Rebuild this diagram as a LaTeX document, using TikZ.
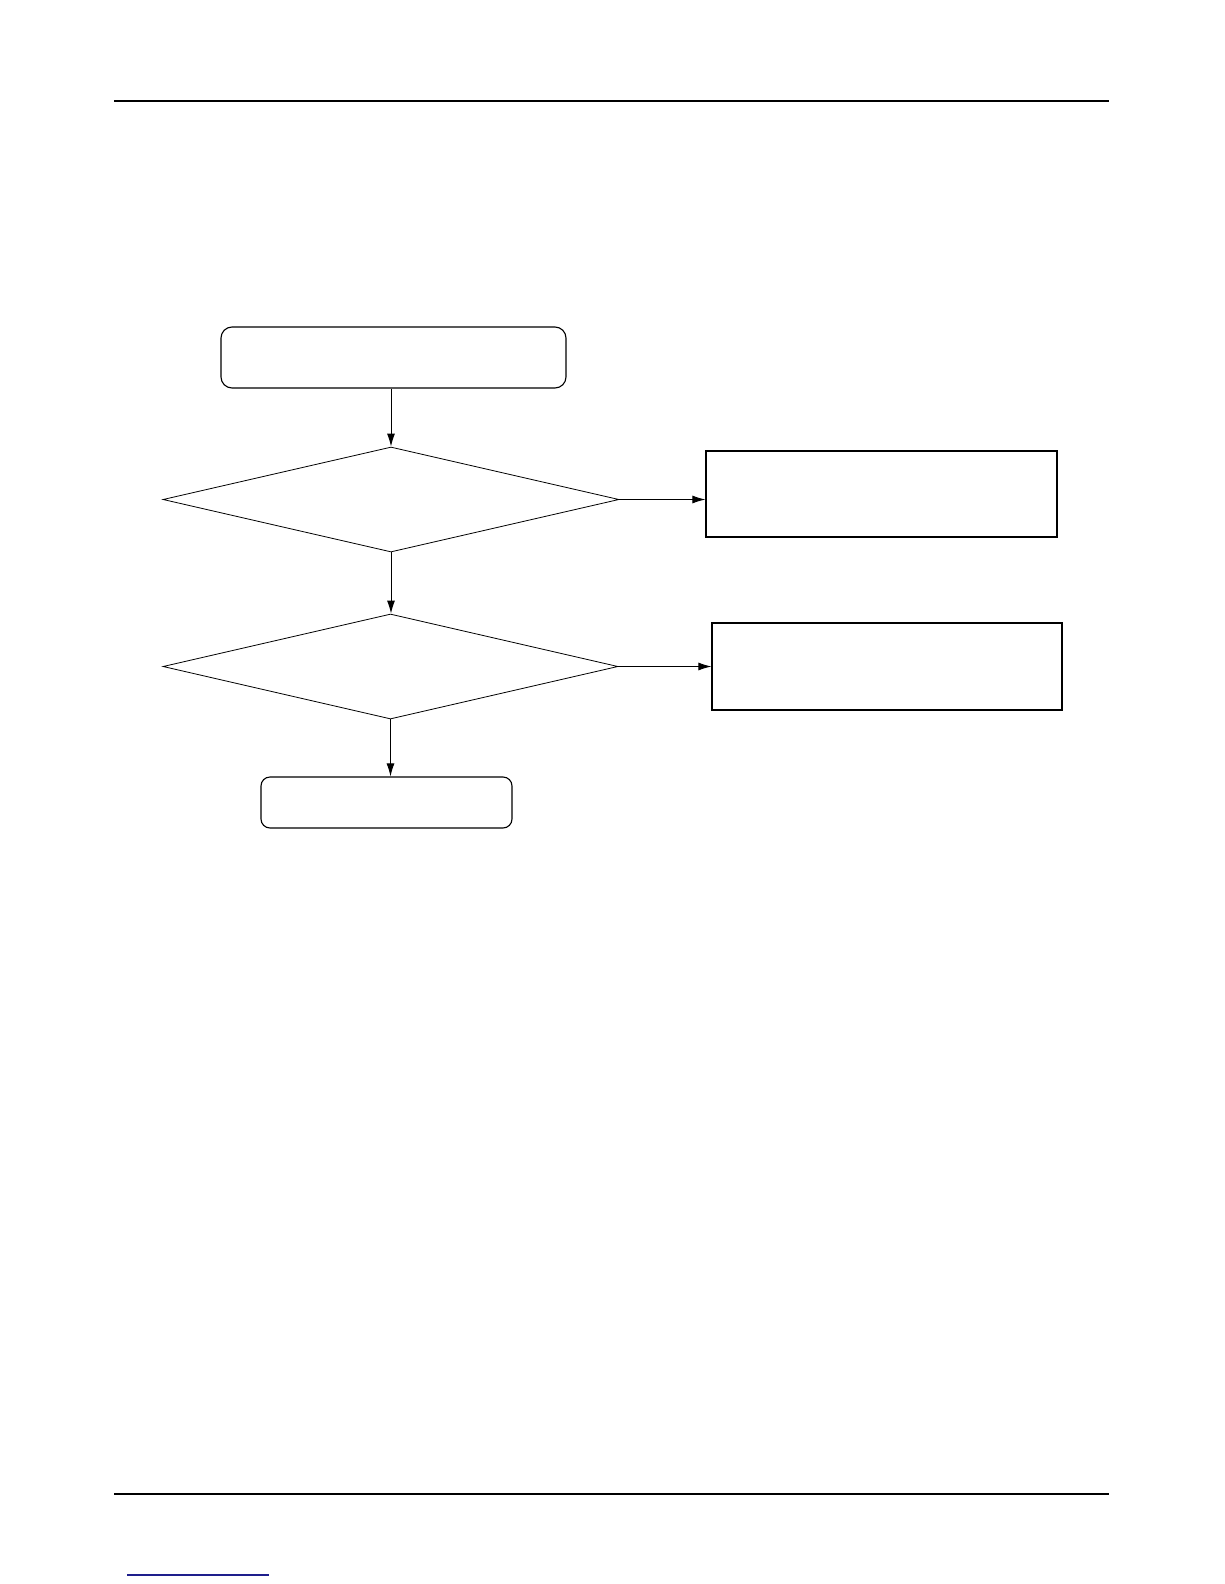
\documentclass[tikz,border=0pt]{standalone}
\usetikzlibrary{shapes.geometric,arrows.meta}
\begin{document}
\begin{tikzpicture}[x=1pt,y=-1pt,
  rbox/.style={draw, line width=1.1pt, rounded corners=11pt, inner sep=0pt},
  sbox/.style={draw, line width=1.1pt, inner sep=0pt},
  dbox/.style={draw, diamond, line width=0.8pt, inner sep=0pt},
  flow/.style={line width=1pt, -{Latex[length=13pt,width=8pt]}},
  rule/.style={line width=1.4pt}]
\useasboundingbox (0,0) rectangle (1224,1584);
\fill[white] (0,0) rectangle (1224,1584);
% page rules
\coordinate (tl) at (114,101); \coordinate (tr) at (1109,101);
\coordinate (bl) at (114,1494); \coordinate (br) at (1109,1494);
\coordinate (ul) at (127,1575); \coordinate (ur) at (269,1575);
\draw[rule] (tl) -- (tr);
\draw[rule] (bl) -- (br);
\draw[line width=1.4pt, color={rgb,255:red,30;green,30;blue,140}] (ul) -- (ur);
% nodes
\node[rbox, minimum width=345pt, minimum height=61pt] (start) at (393.5,357.5) {};
\node[dbox, aspect=4.34, minimum width=456pt, minimum height=105pt] (d1) at (391,499.5) {};
\node[sbox, minimum width=351pt, minimum height=86pt] (r1) at (881.5,494) {};
\node[dbox, aspect=4.34, minimum width=455pt, minimum height=105pt] (d2) at (390.5,666.5) {};
\node[sbox, minimum width=350pt, minimum height=87pt] (r2) at (887,666.5) {};
\node[rbox, minimum width=251pt, minimum height=51pt, rounded corners=9pt] (end) at (386.5,802.5) {};
% connectors
\draw[flow] (d1.north |- start.south) -- (d1.north);
\draw[flow] (d1.south) -- (d1.south |- d2.north);
\draw[flow] (d2.south) -- (d2.south |- end.north);
\draw[flow] (d1.east) -- (d1.east -| r1.west);
\draw[flow] (d2.east) -- (d2.east -| r2.west);
\end{tikzpicture}
\end{document}
